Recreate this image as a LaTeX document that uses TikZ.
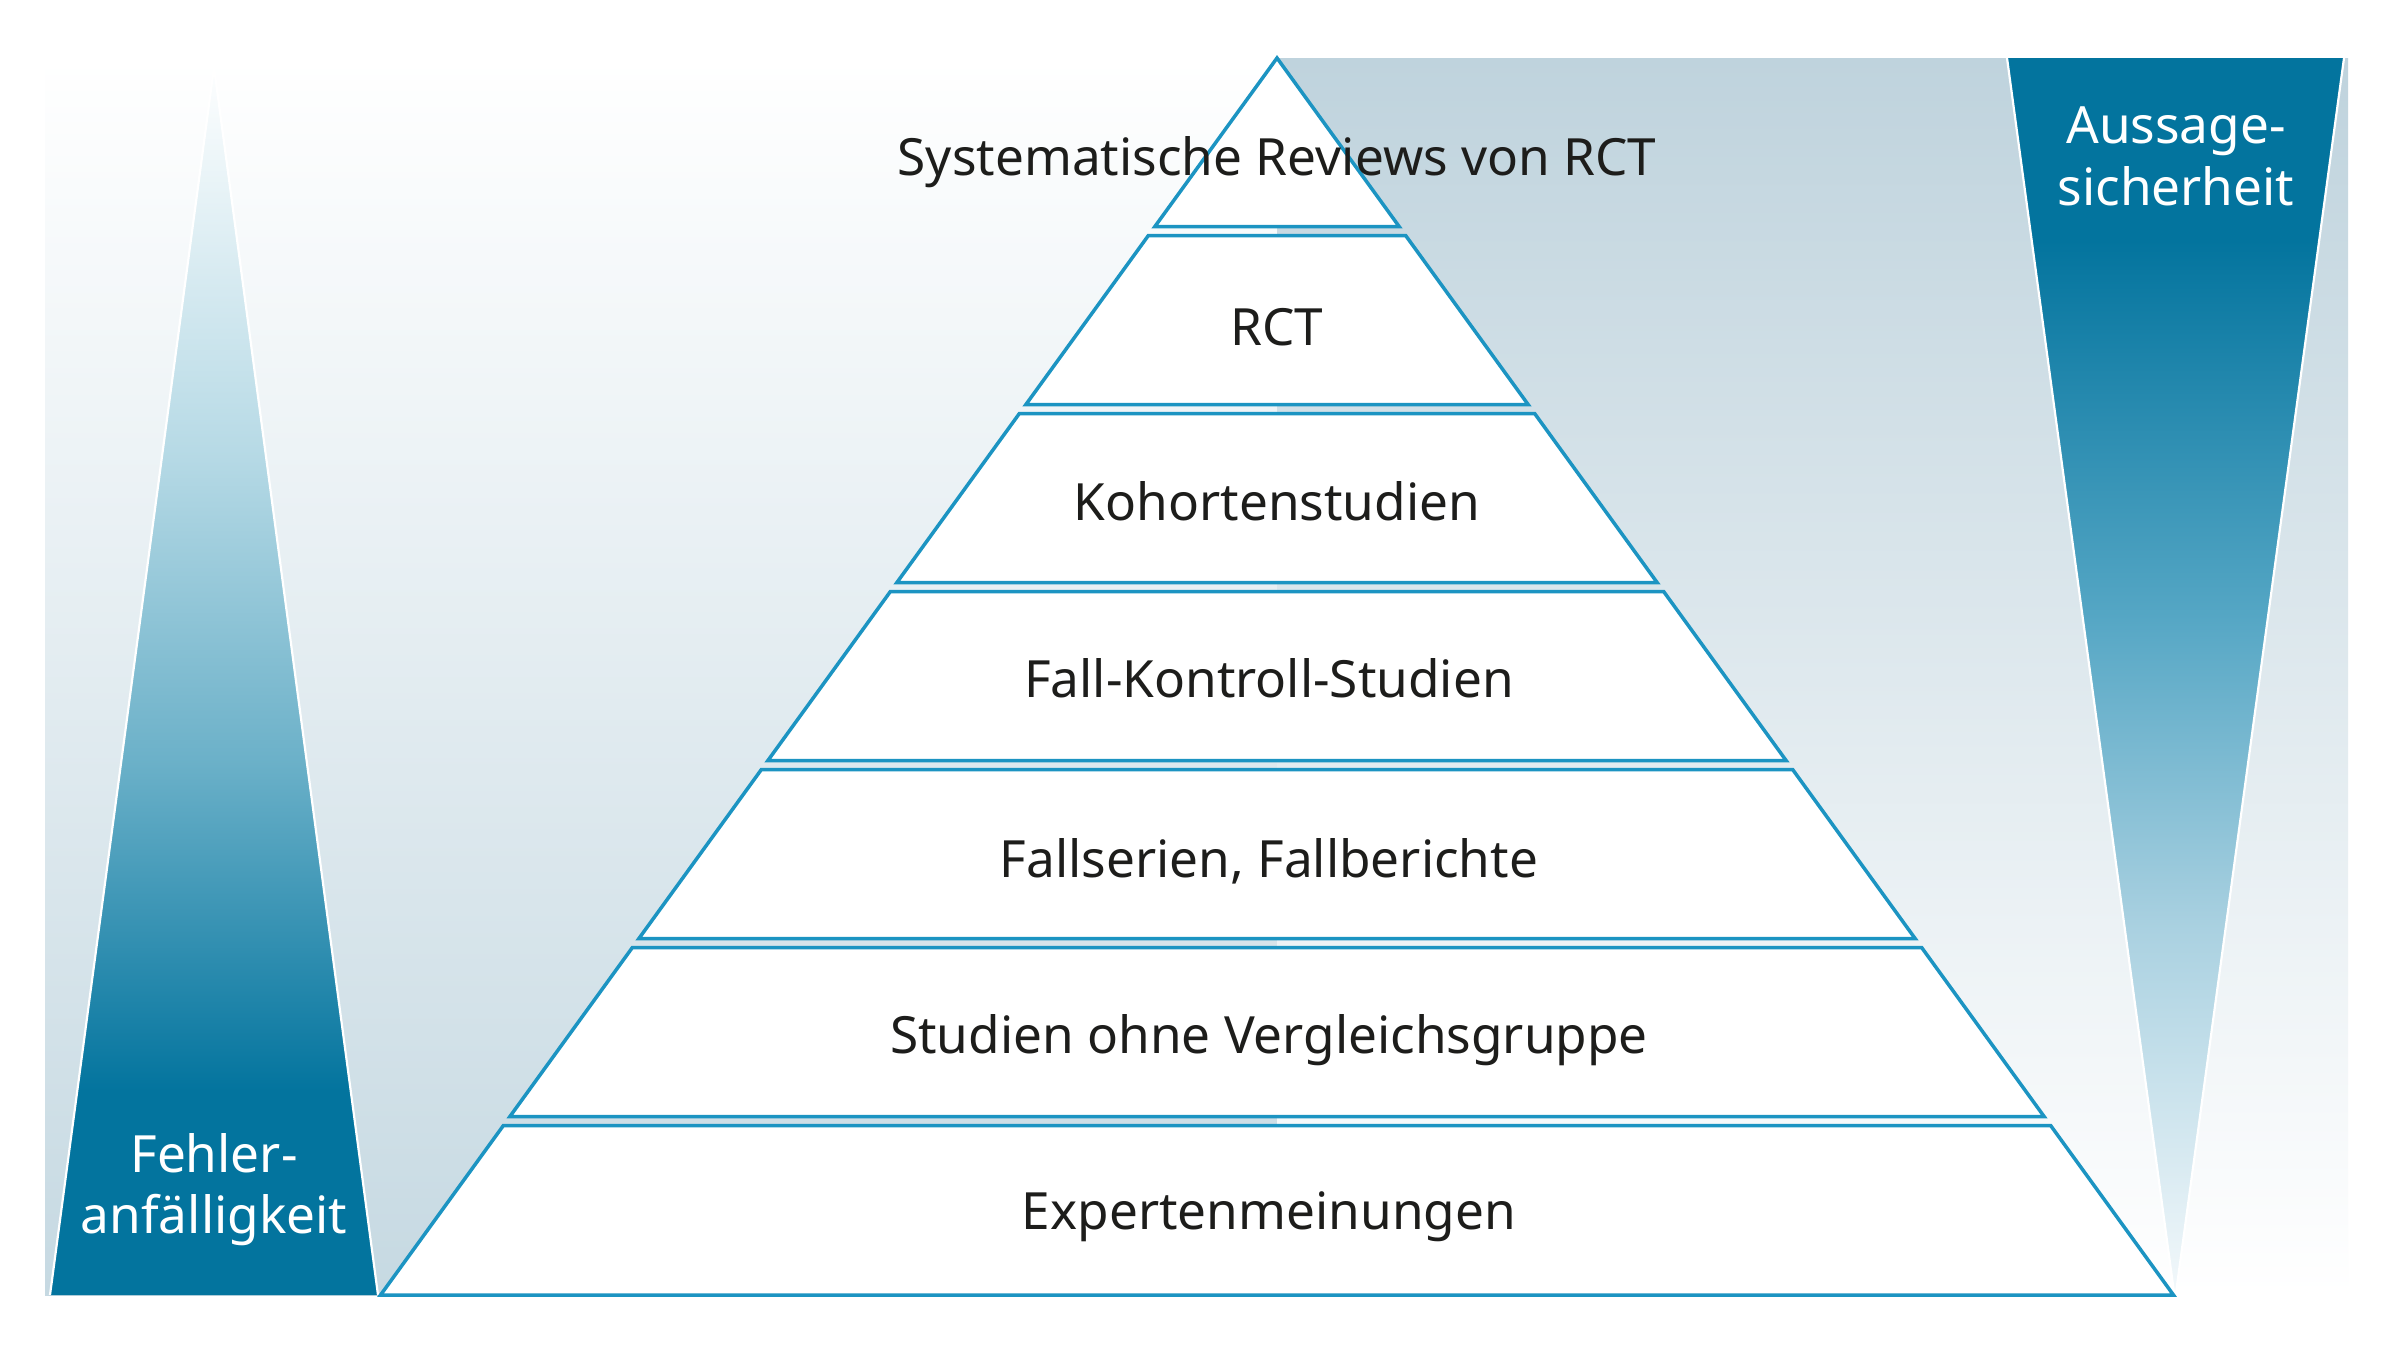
\documentclass[tikz,border=0pt]{standalone}
\usepackage{fontspec}
\setmainfont{Noto Sans}
\definecolor{edgeblue}{RGB}{28,148,194}
\definecolor{darkteal}{RGB}{3,116,158}
\definecolor{bgL}{RGB}{198,217,226}
\definecolor{bgR}{RGB}{191,211,221}
\definecolor{lA}{RGB}{181,217,229}
\definecolor{lB}{RGB}{106,176,200}
\definecolor{rA}{RGB}{86,167,197}
\definecolor{rB}{RGB}{168,208,224}
\definecolor{rC}{RGB}{246,250,252}
\definecolor{txt}{RGB}{29,29,27}
\newcommand\labfont{\fontsize{14.6pt}{17.5pt}\selectfont}
\begin{document}
\begin{tikzpicture}[x=0.1mm,y=-0.1mm,
  layerbox/.style={draw=edgeblue, line width=0.35mm, fill=white, line join=miter},
  lab/.style={anchor=base, font=\labfont, text=txt, inner sep=0pt},
  sidelab/.style={anchor=base, font=\labfont, text=white, inner sep=0pt},
  whiteedge/.style={draw=white, line width=0.22mm}]
\useasboundingbox (0,0) rectangle (2400,1349);
\fill[white] (0,0) rectangle (2400,1349);
% backgrounds
\shade[top color=white, bottom color=bgL] (45,58) rectangle (1277,1295);
\shade[top color=bgR, bottom color=white] (1277,58) rectangle (2348,1295);
% left triangle
\begin{scope}
\clip (214,67) -- (378,1295) -- (50,1295) -- cycle;
\shade[top color=white, bottom color=lA] (40,60) rectangle (390,460);
\shade[top color=lA, bottom color=lB] (40,459) rectangle (390,766);
\shade[top color=lB, bottom color=darkteal] (40,765) rectangle (390,1091);
\fill[darkteal] (40,1090) rectangle (390,1300);
\end{scope}
\draw[whiteedge] (50,1295) -- (214,67) -- (378,1295);
% right triangle
\begin{scope}
\clip (2007,58) -- (2344,58) -- (2175,1300) -- cycle;
\fill[darkteal] (2000,50) rectangle (2350,241);
\shade[top color=darkteal, bottom color=rA] (2000,240) rectangle (2350,621);
\shade[top color=rA, bottom color=rB] (2000,620) rectangle (2350,921);
\shade[top color=rB, bottom color=rC] (2000,920) rectangle (2350,1310);
\end{scope}
\draw[whiteedge] (2007,58) -- (2175,1300) -- (2344,58);
% pyramid layers
\def\slope{0.7247}
\draw[layerbox] (1277,58) -- ({1277+\slope*(226.5-58)},226.5) -- ({1277-\slope*(226.5-58)},226.5) -- cycle;
\foreach \yt/\yb in {235.5/404.5, 413.5/582.5, 591.5/760.5, 769.5/938.5, 947.5/1116.5, 1125.5/1295}{
  \draw[layerbox] ({1277-\slope*(\yt-58)},\yt) -- ({1277+\slope*(\yt-58)},\yt)
     -- ({1277+\slope*(\yb-58)},\yb) -- ({1277-\slope*(\yb-58)},\yb) -- cycle;
}
% labels
\node[lab] (t1) at (1277,175) {Systematische Reviews von RCT};
\node[lab] (t2) at (1277,345.5) {RCT};
\node[lab] (t3) at (1277,520) {Kohortenstudien};
\node[lab] (t4) at (1269,697.5) {Fall-Kontroll-Studien};
\node[lab] (t5) at (1269,877) {Fallserien, Fallberichte};
\node[lab] (t6) at (1269,1053) {Studien ohne Vergleichsgruppe};
\node[lab] (t7) at (1269,1229) {Expertenmeinungen};
\node[sidelab] (f1) at (214,1172) {Fehler-};
\node[sidelab] (f2) at (214,1233) {anfälligkeit};
\node[sidelab] (a1) at (2176,143) {Aussage-};
\node[sidelab] (a2) at (2176,205) {sicherheit};
\end{tikzpicture}
\end{document}
